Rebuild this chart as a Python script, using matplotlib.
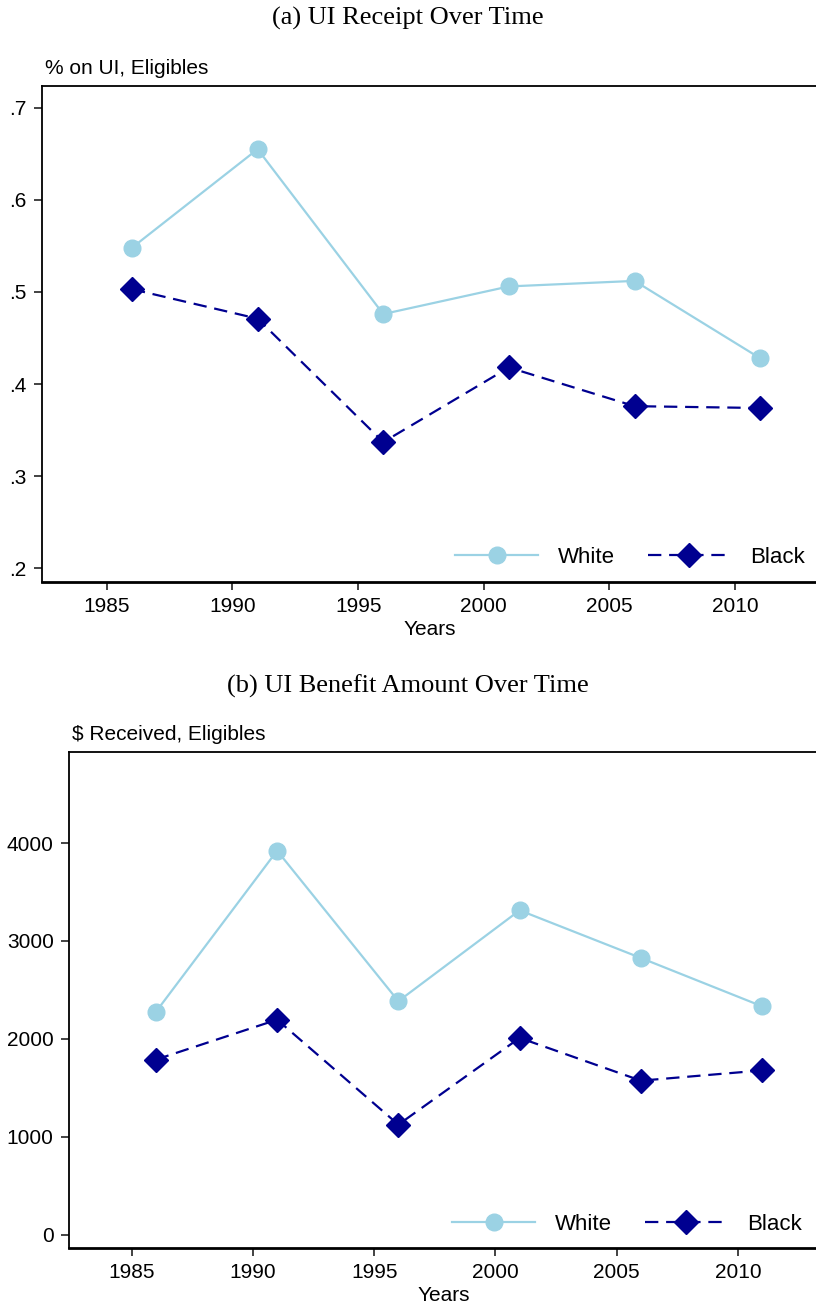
import matplotlib
matplotlib.use("Agg")
import matplotlib.pyplot as plt

years = [1986, 1991, 1996, 2001, 2006, 2011]
receipt_white = [0.548, 0.655, 0.476, 0.506, 0.512, 0.428]
receipt_black = [0.503, 0.471, 0.337, 0.418, 0.376, 0.374]
amount_white = [2275, 3922, 2385, 3313, 2826, 2332]
amount_black = [1788, 2196, 1124, 2010, 1573, 1678]

xticks = [1985, 1990, 1995, 2000, 2005, 2010]
receipt_yticks = [0.2, 0.3, 0.4, 0.5, 0.6, 0.7]
receipt_ylabels = [".2", ".3", ".4", ".5", ".6", ".7"]
amount_yticks = [0, 1000, 2000, 3000, 4000]
amount_ylabels = ["0", "1000", "2000", "3000", "4000"]

c_white = "#9BD2E4"
c_black = "#000090"
sans = "Liberation Sans"
serif = "Liberation Serif"
fs = 15

W, H = 816, 1306
fig = plt.figure(figsize=(W / 100, H / 100), dpi=100)


def px_axes(l, t, r, b):
    return fig.add_axes([l / W, 1 - b / H, (r - l) / W, (b - t) / H])


def style(ax, xs, yw, yb, yticks, ylabels, ylabel, title, title_y, leg_xy):
    ax.plot(xs, yw, color=c_white, lw=1.6, marker="o", ms=12, label="White")
    ax.plot(xs, yb, color=c_black, lw=1.6, ls=(0, (6, 3.5)),
            marker="D", ms=12.5, label="Black")
    ax.set_xlim(1982.42, 2013.3)
    ax.set_xticks(xticks)
    ax.set_xticklabels([str(x) for x in xticks], fontsize=fs, family=sans)
    ax.set_yticks(yticks)
    ax.set_yticklabels(ylabels, fontsize=fs, family=sans)
    ax.tick_params(direction="out", length=6, width=1.2, color="#222222", pad=5)
    for s in ["left", "top", "right"]:
        ax.spines[s].set_linewidth(1.3)
    ax.spines["bottom"].set_linewidth(2.0)
    ax.set_xlabel("Years", fontsize=fs, family=sans, labelpad=3)
    ax.legend(loc="center right",
              bbox_to_anchor=(leg_xy[0] / W, 1 - leg_xy[1] / H),
              bbox_transform=fig.transFigure, ncol=2,
              frameon=False, prop={"family": sans, "size": 16},
              handlelength=3.7, handletextpad=0.9, columnspacing=1.5,
              borderpad=0, borderaxespad=0)
    fig.text(ax.get_position().x0 + 3 / W, ax.get_position().y1 + 8 / H, ylabel,
             fontsize=fs, family=sans, ha="left", va="bottom")
    fig.text(0.5, 1 - title_y / H, title, fontsize=19, family=serif,
             ha="center", va="center")


ax1 = px_axes(42, 86, 818, 582)
ax1.set_ylim(0.1851, 0.7236)
style(ax1, years, receipt_white, receipt_black, receipt_yticks, receipt_ylabels,
      "% on UI, Eligibles", "(a) UI Receipt Over Time", 18, (805, 557))

ax2 = px_axes(69, 752, 818, 1248)
ax2.set_ylim(-136, 4930)
style(ax2, years, amount_white, amount_black, amount_yticks, amount_ylabels,
      "$ Received, Eligibles", "(b) UI Benefit Amount Over Time", 686, (802, 1224))

fig.savefig("out.png", dpi=100)
